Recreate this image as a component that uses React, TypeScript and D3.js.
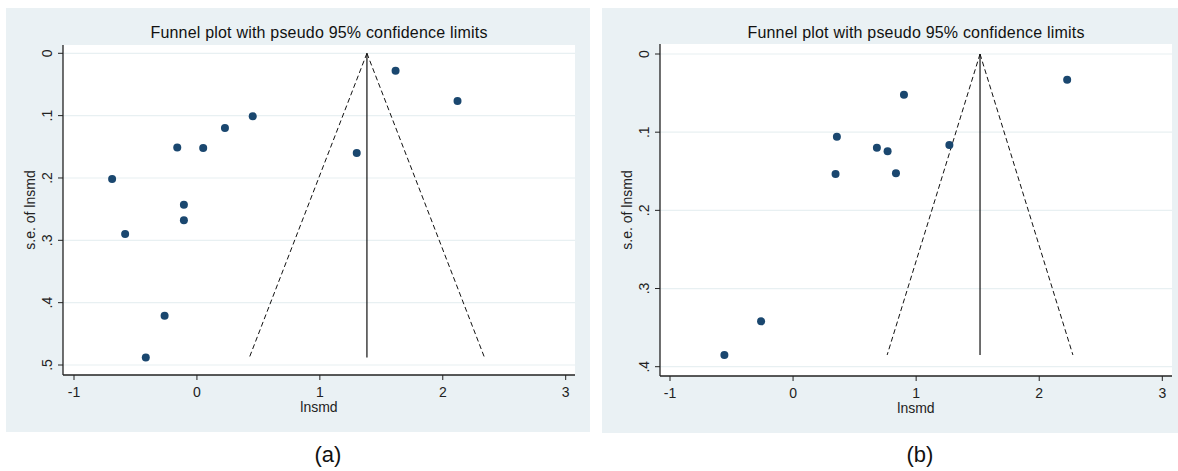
import React from 'react';
import * as d3 from 'd3';

// panel (a): lnsmd and its standard error
const lnsmdA = [1.616, 2.12, 0.454, 0.228, -0.16, 0.051, -0.69, -0.106, -0.106, -0.584, 1.30, -0.263, -0.416];
const seA = [0.028, 0.0765, 0.101, 0.120, 0.151, 0.152, 0.2016, 0.243, 0.268, 0.290, 0.160, 0.421, 0.488];
const pooledA = 1.383;
const seMaxA = 0.488;

// panel (b)
const lnsmdB = [0.901, 0.356, 0.681, 0.768, 0.345, 0.836, 1.27, 2.227, -0.26, -0.558];
const seB = [0.052, 0.1057, 0.120, 0.1245, 0.1535, 0.1526, 0.1164, 0.033, 0.342, 0.385];
const pooledB = 1.519;
const seMaxB = 0.385;

const xTicks = [-1, 0, 1, 2, 3];
const yTicksA = [0, 0.1, 0.2, 0.3, 0.4, 0.5];
const yTicksB = [0, 0.1, 0.2, 0.3, 0.4];

const title = 'Funnel plot with pseudo 95% confidence limits';
const font = '"Liberation Sans", Arial, sans-serif';
const markerColor = '#1a476f';
const bgColor = '#eaf1f4';
const gridColor = '#e8f0f2';

const fmt = (v: number) => (v === 0 ? '0' : d3.format('.1f')(v).replace(/^0/, ''));

type PanelProps = {
  xs: number[];
  ses: number[];
  pooled: number;
  seMax: number;
  yTicks: number[];
  box: [number, number, number, number];
  plot: [number, number, number, number];
  xRange: [number, number];
  yRange: [number, number];
  caption: string;
};

const Funnel = (props: PanelProps) => {
  const { xs, ses, pooled, seMax, yTicks, box, plot, xRange, yRange, caption } = props;
  const [bx0, by0, bx1, by1] = box;
  const [px0, py0, px1, py1] = plot;
  const x = d3.scaleLinear().domain([-1, 3]).range(xRange);
  const y = d3.scaleLinear().domain([0, yTicks[yTicks.length - 1]]).range(yRange);
  const cx = (px0 + px1) / 2;
  const cy = (py0 + py1) / 2;

  const line = d3.line<[number, number]>().x((d) => x(d[0])).y((d) => y(d[1]));
  const z = 1.96;
  const left: [number, number][] = [[pooled, 0], [pooled - z * seMax, seMax]];
  const right: [number, number][] = [[pooled, 0], [pooled + z * seMax, seMax]];
  const mid: [number, number][] = [[pooled, 0], [pooled, seMax]];

  return (
    <g>
      <rect x={bx0} y={by0} width={bx1 - bx0} height={by1 - by0} fill={bgColor} />
      <rect x={px0} y={py0} width={px1 - px0} height={py1 - py0} fill="#fff" />
      {yTicks.map((t) => (
        <line key={'g' + t} x1={px0} x2={px1} y1={y(t)} y2={y(t)} stroke={gridColor} strokeWidth={1.2} />
      ))}
      <text x={cx} y={38} textAnchor="middle" fontFamily={font} fontSize={16} letterSpacing={0.2} fill="#111">
        {title}
      </text>
      {/* axes */}
      <line x1={px0} x2={px0} y1={py0} y2={py1} stroke="#222" strokeWidth={1.3} />
      <line x1={px0} x2={px1} y1={py1} y2={py1} stroke="#222" strokeWidth={1.3} />
      {yTicks.map((t) => (
        <g key={'y' + t}>
          <line x1={px0 - 5} x2={px0} y1={y(t)} y2={y(t)} stroke="#222" />
          <text
            transform={`translate(${px0 - 11},${y(t)}) rotate(-90)`}
            textAnchor="middle"
            fontFamily={font}
            fontSize={14}
            fill="#222"
          >
            {fmt(t)}
          </text>
        </g>
      ))}
      {xTicks.map((t) => (
        <g key={'x' + t}>
          <line x1={x(t)} x2={x(t)} y1={py1} y2={py1 + 5} stroke="#222" />
          <text x={x(t)} y={py1 + 22} textAnchor="middle" fontFamily={font} fontSize={14} fill="#222">
            {t}
          </text>
        </g>
      ))}
      <text x={cx} y={py1 + 37} textAnchor="middle" fontFamily={font} fontSize={14} fill="#222">
        lnsmd
      </text>
      <text
        transform={`translate(${px0 - 28},${cy}) rotate(-90)`}
        textAnchor="middle"
        fontFamily={font}
        fontSize={14}
        fill="#222"
      >
        s.e. of lnsmd
      </text>
      {/* funnel */}
      <path d={line(left) || ''} fill="none" stroke="#111" strokeWidth={1} strokeDasharray="5,3" />
      <path d={line(right) || ''} fill="none" stroke="#111" strokeWidth={1} strokeDasharray="5,3" />
      <path d={line(mid) || ''} fill="none" stroke="#111" strokeWidth={1.2} />
      {xs.map((v, i) => (
        <circle key={i} cx={x(v)} cy={y(ses[i])} r={4} fill={markerColor} />
      ))}
      <text x={(bx0 + bx1) / 2 + 30} y={462} textAnchor="middle" fontFamily={font} fontSize={22} fill="#111">
        {caption}
      </text>
    </g>
  );
};

export default function App() {
  return (
    <div style={{ position: 'absolute', left: 0, top: 0 }}>
      <svg width={1178} height={471} style={{ display: 'block', background: '#fff' }}>
        <Funnel
          xs={lnsmdA}
          ses={seA}
          pooled={pooledA}
          seMax={seMaxA}
          yTicks={yTicksA}
          box={[6, 8, 590, 432]}
          plot={[63, 45, 575, 375]}
          xRange={[74, 565.7]}
          yRange={[53.3, 365]}
          caption="(a)"
        />
        <Funnel
          xs={lnsmdB}
          ses={seB}
          pooled={pooledB}
          seMax={seMaxB}
          yTicks={yTicksB}
          box={[602, 8, 1178, 433]}
          plot={[660, 44, 1172, 376]}
          xRange={[670, 1162.3]}
          yRange={[54, 366.7]}
          caption="(b)"
        />
      </svg>
    </div>
  );
}
